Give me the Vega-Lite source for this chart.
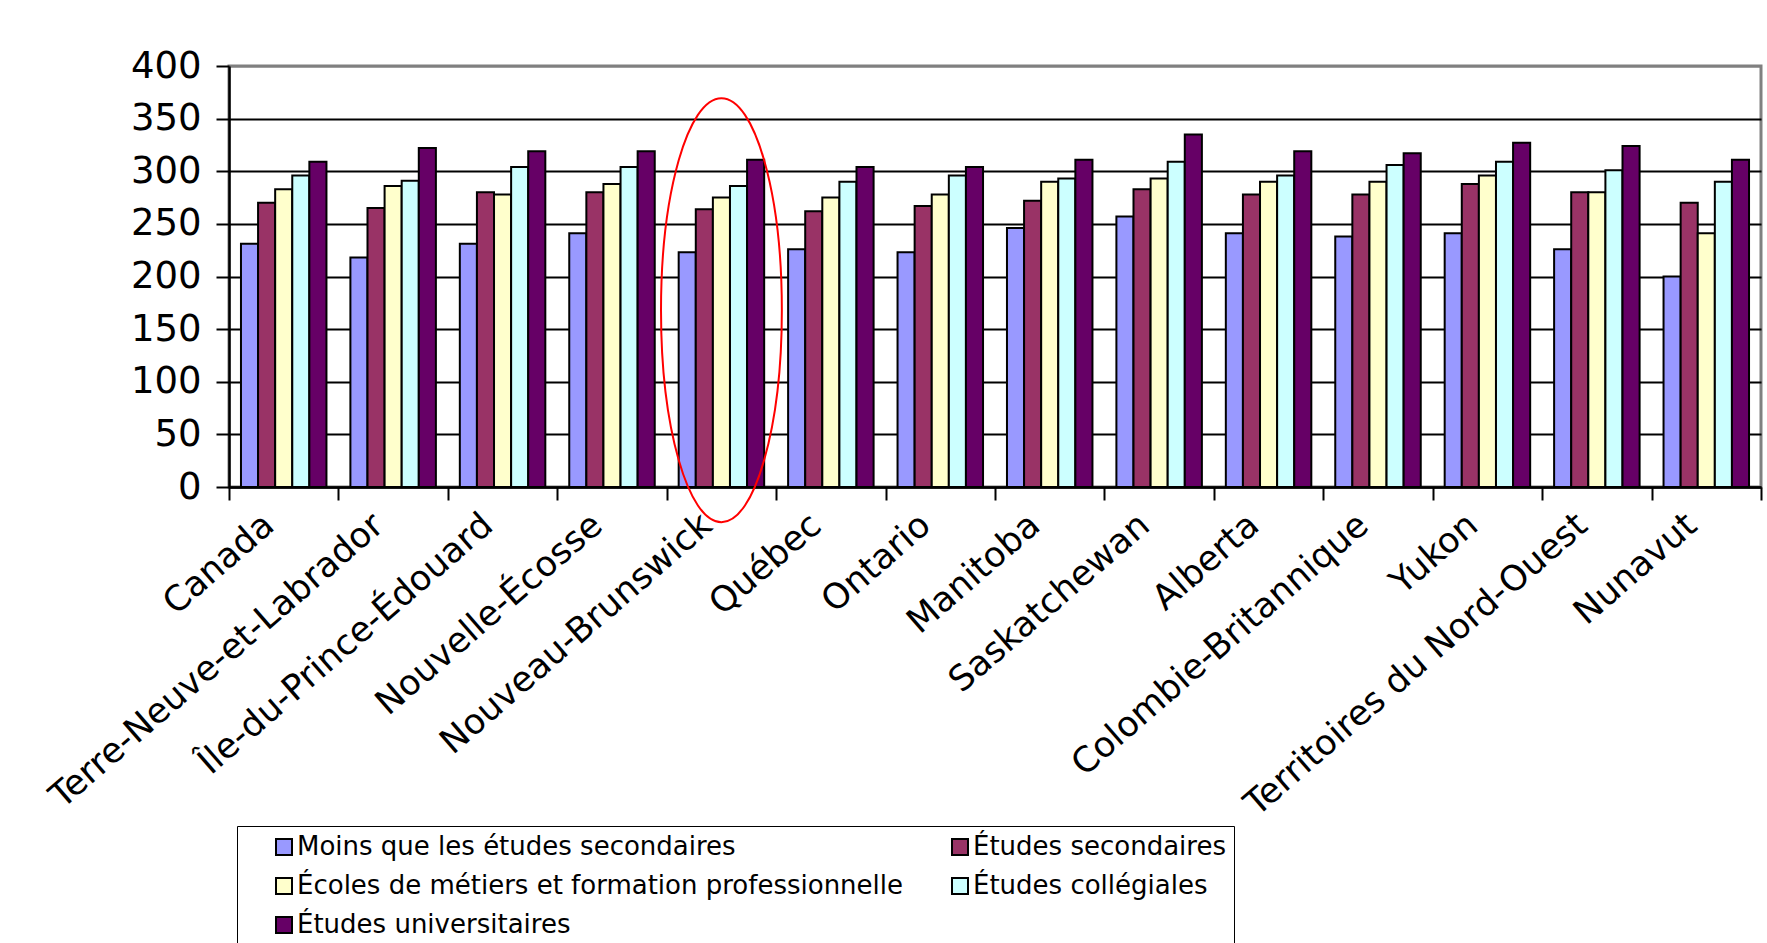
{
  "$schema": "https://vega.github.io/schema/vega-lite/v6.json",
  "autosize": {"type": "none"},
  "padding": {"left": 229, "top": 66, "right": 6, "bottom": 456},
  "width": 1532,
  "height": 421,
  "background": "white",
  "config": {
    "font": "DejaVu Sans",
    "view": {"stroke": "#808080", "strokeWidth": 3},
    "axis": {
      "domainColor": "black", "domainWidth": 2.5,
      "tickColor": "black", "tickWidth": 2, "tickSize": 13,
      "labelColor": "black", "labelFont": "DejaVu Sans", "labelFontSize": 37
    }
  },
  "datasets": {
    "scores": [
      {"r": "Canada", "n": "Moins que les études secondaires", "v": 231},
      {"r": "Canada", "n": "Études secondaires", "v": 270},
      {"r": "Canada", "n": "Écoles de métiers et formation professionnelle", "v": 283},
      {"r": "Canada", "n": "Études collégiales", "v": 296},
      {"r": "Canada", "n": "Études universitaires", "v": 309},
      {"r": "Terre-Neuve-et-Labrador", "n": "Moins que les études secondaires", "v": 218},
      {"r": "Terre-Neuve-et-Labrador", "n": "Études secondaires", "v": 265},
      {"r": "Terre-Neuve-et-Labrador", "n": "Écoles de métiers et formation professionnelle", "v": 286},
      {"r": "Terre-Neuve-et-Labrador", "n": "Études collégiales", "v": 291},
      {"r": "Terre-Neuve-et-Labrador", "n": "Études universitaires", "v": 322},
      {"r": "Île-du-Prince-Édouard", "n": "Moins que les études secondaires", "v": 231},
      {"r": "Île-du-Prince-Édouard", "n": "Études secondaires", "v": 280},
      {"r": "Île-du-Prince-Édouard", "n": "Écoles de métiers et formation professionnelle", "v": 278},
      {"r": "Île-du-Prince-Édouard", "n": "Études collégiales", "v": 304},
      {"r": "Île-du-Prince-Édouard", "n": "Études universitaires", "v": 319},
      {"r": "Nouvelle-Écosse", "n": "Moins que les études secondaires", "v": 241},
      {"r": "Nouvelle-Écosse", "n": "Études secondaires", "v": 280},
      {"r": "Nouvelle-Écosse", "n": "Écoles de métiers et formation professionnelle", "v": 288},
      {"r": "Nouvelle-Écosse", "n": "Études collégiales", "v": 304},
      {"r": "Nouvelle-Écosse", "n": "Études universitaires", "v": 319},
      {"r": "Nouveau-Brunswick", "n": "Moins que les études secondaires", "v": 223},
      {"r": "Nouveau-Brunswick", "n": "Études secondaires", "v": 264},
      {"r": "Nouveau-Brunswick", "n": "Écoles de métiers et formation professionnelle", "v": 275},
      {"r": "Nouveau-Brunswick", "n": "Études collégiales", "v": 286},
      {"r": "Nouveau-Brunswick", "n": "Études universitaires", "v": 311},
      {"r": "Québec", "n": "Moins que les études secondaires", "v": 226},
      {"r": "Québec", "n": "Études secondaires", "v": 262},
      {"r": "Québec", "n": "Écoles de métiers et formation professionnelle", "v": 275},
      {"r": "Québec", "n": "Études collégiales", "v": 290},
      {"r": "Québec", "n": "Études universitaires", "v": 304},
      {"r": "Ontario", "n": "Moins que les études secondaires", "v": 223},
      {"r": "Ontario", "n": "Études secondaires", "v": 267},
      {"r": "Ontario", "n": "Écoles de métiers et formation professionnelle", "v": 278},
      {"r": "Ontario", "n": "Études collégiales", "v": 296},
      {"r": "Ontario", "n": "Études universitaires", "v": 304},
      {"r": "Manitoba", "n": "Moins que les études secondaires", "v": 246},
      {"r": "Manitoba", "n": "Études secondaires", "v": 272},
      {"r": "Manitoba", "n": "Écoles de métiers et formation professionnelle", "v": 290},
      {"r": "Manitoba", "n": "Études collégiales", "v": 293},
      {"r": "Manitoba", "n": "Études universitaires", "v": 311},
      {"r": "Saskatchewan", "n": "Moins que les études secondaires", "v": 257},
      {"r": "Saskatchewan", "n": "Études secondaires", "v": 283},
      {"r": "Saskatchewan", "n": "Écoles de métiers et formation professionnelle", "v": 293},
      {"r": "Saskatchewan", "n": "Études collégiales", "v": 309},
      {"r": "Saskatchewan", "n": "Études universitaires", "v": 335},
      {"r": "Alberta", "n": "Moins que les études secondaires", "v": 241},
      {"r": "Alberta", "n": "Études secondaires", "v": 278},
      {"r": "Alberta", "n": "Écoles de métiers et formation professionnelle", "v": 290},
      {"r": "Alberta", "n": "Études collégiales", "v": 296},
      {"r": "Alberta", "n": "Études universitaires", "v": 319},
      {"r": "Colombie-Britannique", "n": "Moins que les études secondaires", "v": 238},
      {"r": "Colombie-Britannique", "n": "Études secondaires", "v": 278},
      {"r": "Colombie-Britannique", "n": "Écoles de métiers et formation professionnelle", "v": 290},
      {"r": "Colombie-Britannique", "n": "Études collégiales", "v": 306},
      {"r": "Colombie-Britannique", "n": "Études universitaires", "v": 317},
      {"r": "Yukon", "n": "Moins que les études secondaires", "v": 241},
      {"r": "Yukon", "n": "Études secondaires", "v": 288},
      {"r": "Yukon", "n": "Écoles de métiers et formation professionnelle", "v": 296},
      {"r": "Yukon", "n": "Études collégiales", "v": 309},
      {"r": "Yukon", "n": "Études universitaires", "v": 327},
      {"r": "Territoires du Nord-Ouest", "n": "Moins que les études secondaires", "v": 226},
      {"r": "Territoires du Nord-Ouest", "n": "Études secondaires", "v": 280},
      {"r": "Territoires du Nord-Ouest", "n": "Écoles de métiers et formation professionnelle", "v": 280},
      {"r": "Territoires du Nord-Ouest", "n": "Études collégiales", "v": 301},
      {"r": "Territoires du Nord-Ouest", "n": "Études universitaires", "v": 324},
      {"r": "Nunavut", "n": "Moins que les études secondaires", "v": 200},
      {"r": "Nunavut", "n": "Études secondaires", "v": 270},
      {"r": "Nunavut", "n": "Écoles de métiers et formation professionnelle", "v": 241},
      {"r": "Nunavut", "n": "Études collégiales", "v": 290},
      {"r": "Nunavut", "n": "Études universitaires", "v": 311}
    ],
    "highlight": [
      {"r": "Nouveau-Brunswick", "v": 168}
    ]
  },
  "layer": [
    {
      "data": {"name": "scores"},
      "mark": {"type": "bar", "stroke": "black", "strokeWidth": 2},
      "encoding": {
        "x": {
          "field": "r", "type": "nominal", "title": null,
          "scale": {
            "domain": ["Canada", "Terre-Neuve-et-Labrador", "Île-du-Prince-Édouard", "Nouvelle-Écosse", "Nouveau-Brunswick", "Québec", "Ontario", "Manitoba", "Saskatchewan", "Alberta", "Colombie-Britannique", "Yukon", "Territoires du Nord-Ouest", "Nunavut"],
            "paddingInner": 0, "paddingOuter": 0
          },
          "axis": {
            "grid": false, "tickBand": "extent",
            "labelAngle": -41, "labelAlign": "right", "labelBaseline": "alphabetic",
            "labelFontSize": 35,
            "labelPadding": 28, "labelOffset": -8, "labelLimit": 1000, "labelOverlap": false
          }
        },
        "xOffset": {
          "field": "n", "type": "nominal",
          "scale": {
            "domain": ["Moins que les études secondaires", "Études secondaires", "Écoles de métiers et formation professionnelle", "Études collégiales", "Études universitaires"],
            "paddingInner": 0, "paddingOuter": 0.7
          }
        },
        "y": {
          "field": "v", "type": "quantitative", "title": null,
          "scale": {"domain": [0, 400], "nice": false},
          "axis": {
            "values": [0, 50, 100, 150, 200, 250, 300, 350, 400],
            "grid": true,
            "gridColor": {"condition": {"test": "datum.value === 400", "value": "#808080"}, "value": "black"},
            "gridWidth": 2,
            "labelPadding": 15
          }
        },
        "color": {
          "field": "n", "type": "nominal",
          "scale": {
            "domain": ["Moins que les études secondaires", "Écoles de métiers et formation professionnelle", "Études universitaires", "Études secondaires", "Études collégiales"],
            "range": ["#9999FF", "#FFFFCC", "#660066", "#993366", "#CCFFFF"]
          },
          "legend": {
            "title": null,
            "orient": "none", "legendX": 8, "legendY": 760,
            "columns": 2, "gridAlign": "all",
            "padding": 8, "rowPadding": 13, "columnPadding": 17,
            "strokeColor": "black", "fillColor": "white",
            "labelFont": "DejaVu Sans", "labelFontSize": 26, "labelColor": "black", "labelLimit": 1000,
            "symbolOffset": 26, "labelOffset": 0,
            "symbolType": "square", "symbolSize": 256,
            "symbolStrokeColor": "black", "symbolStrokeWidth": 2, "symbolOpacity": 1
          }
        }
      }
    },
    {
      "data": {"name": "highlight"},
      "mark": {
        "type": "point",
        "shape": "M -0.285 0 A 0.285 1 0 1 1 0.285 0 A 0.285 1 0 1 1 -0.285 0 Z",
        "size": 179776, "filled": false, "stroke": "#FF0000", "strokeWidth": 2, "opacity": 1
      },
      "encoding": {
        "x": {"field": "r", "type": "nominal", "title": null},
        "y": {"field": "v", "type": "quantitative", "title": null}
      }
    }
  ]
}
